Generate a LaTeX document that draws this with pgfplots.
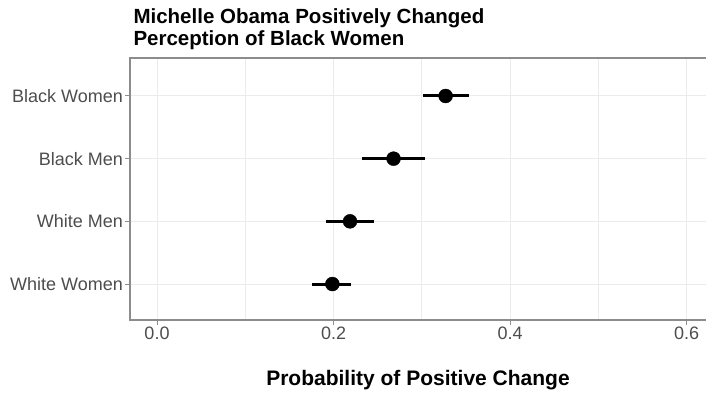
\documentclass[border=0pt]{standalone}
\usepackage{fontspec}
\setmainfont{Liberation Sans}
\usepackage{pgfplots}
\pgfplotsset{compat=1.18}
\definecolor{gridc}{HTML}{EBEBEB}
\definecolor{axc}{HTML}{8C8C8C}
\definecolor{tickc}{HTML}{4D4D4D}
\begin{document}
\begin{tikzpicture}[x=1pt,y=1pt]
\path[use as bounding box] (0,0) rectangle (706,392);
\begin{axis}[
  at={(130pt,72pt)}, anchor=south west,
  scale only axis, width=577pt, height=262pt,
  xmin=-0.0306, xmax=0.6232, ymin=0.426, ymax=4.606,
  xtick={0,0.2,0.4,0.6}, minor xtick={0.1,0.3,0.5},
  ytick={1,2,3,4},
  yticklabels={White Women, White Men, Black Men, Black Women},
  /pgf/number format/fixed,
  /pgf/number format/fixed zerofill,
  /pgf/number format/precision=1,
  /pgf/number format/assume math mode=true,
  tick label style={font=\fontsize{18}{21}\selectfont, text=tickc},
  xticklabel style={inner sep=1pt, yshift=-1pt},
  yticklabel style={inner sep=1pt, xshift=-1pt},
  grid=both,
  major grid style={gridc, line width=1pt},
  minor grid style={gridc, line width=0.7pt},
  axis line style={axc, line width=1.3pt},
  tick style={axc, line width=1pt},
  major tick length=5pt, minor tick length=0pt, tick align=outside,
  xtick pos=lower, ytick pos=left,
  clip=false,
]
\addplot[only marks, mark=*, mark size=7pt, black,
  error bars/.cd, x dir=both, x explicit, error mark=none,
  error bar style={black, line width=3pt}]
coordinates {
  (0.327,4) += (0.027,0) -= (0.026,0)
  (0.268,3) += (0.036,0) -= (0.036,0)
  (0.2187,2) += (0.027,0) -= (0.027,0)
  (0.1987,1) += (0.021,0) -= (0.023,0)
};
\end{axis}
\node[anchor=base west, font=\fontsize{20.5}{22}\selectfont\bfseries] at (130,368) {Michelle Obama Positively Changed};
\node[anchor=base west, font=\fontsize{20.5}{22}\selectfont\bfseries] at (130,347) {Perception of Black Women};
\node[anchor=base, font=\fontsize{21}{24}\selectfont\bfseries] at (418,7) {Probability of Positive Change};
\end{tikzpicture}
\end{document}
